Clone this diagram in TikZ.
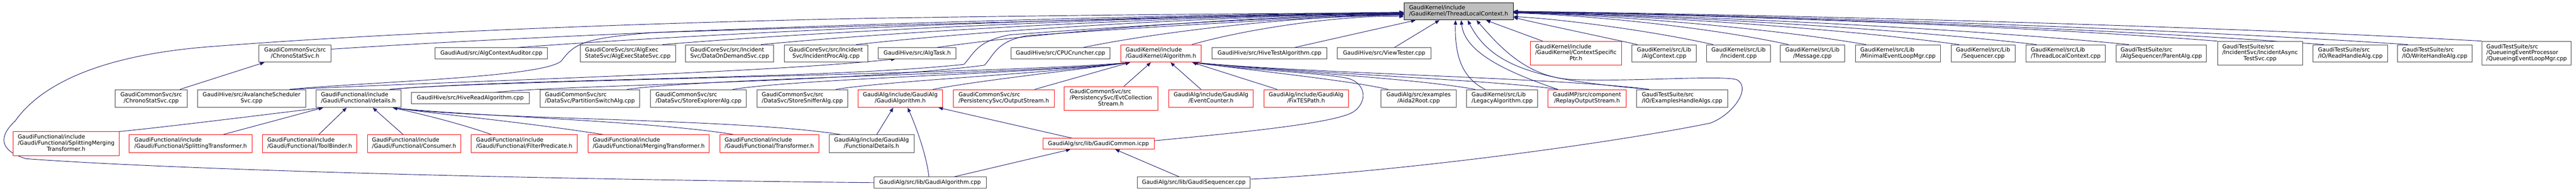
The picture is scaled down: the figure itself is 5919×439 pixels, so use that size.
\documentclass[tikz,border=0pt]{standalone}
\usepackage{fontspec}
\setmainfont{DejaVu Sans}
\usetikzlibrary{arrows.meta}
\pgfdeclarelayer{edgelayer}
\pgfsetlayers{edgelayer,main}
\definecolor{edgeblue}{HTML}{191970}
\definecolor{bordergrey}{HTML}{404040}
\definecolor{rootfill}{HTML}{BFBFBF}
\newcommand{\labA}[2]{\begin{tabular}{@{}l@{}}#1\\\multicolumn{1}{@{}c@{}}{#2}\end{tabular}}
\newcommand{\labB}[3]{\begin{tabular}{@{}l@{}}#1\\#2\\\multicolumn{1}{@{}c@{}}{#3}\end{tabular}}
\newcommand{\mkbox}[7]{%
  \pgfmathsetmacro{\mkW}{#5-#3}\pgfmathsetmacro{\mkH}{#6-#4}%
  \pgfmathsetmacro{\mkX}{(#3+#5)/2}\pgfmathsetmacro{\mkY}{(#4+#6)/2}%
  \node[#1, minimum width=\mkW pt, minimum height=\mkH pt] (#2) at (\mkX,\mkY) {#7};}
\tikzset{
  box/.style={rectangle, draw=bordergrey, line width=1.1pt, fill=white, inner sep=0pt,
    font=\fontsize{12.85}{14}\selectfont},
  redbox/.style={box, draw=red},
  rootbox/.style={box, draw=black, fill=rootfill},
  dep/.style={draw=edgeblue, line width=1.1pt, -{Triangle[length=10pt,width=8pt]}},
}
\begin{document}
\begin{tikzpicture}[x=1pt,y=-1pt]
\useasboundingbox (0,0) rectangle (5919,439);
% root
\mkbox{rootbox}{R}{3226}{6}{3477}{46}{\labA{GaudiKernel/include}{/GaudiKernel/ThreadLocalContext.h}}
% row 1
\mkbox{box}{n1}{595}{103}{761}{143}{\labA{GaudiCommonSvc/src}{/ChronoStatSvc.h}}
\mkbox{box}{n2}{1000}{110}{1258}{135}{GaudiAud/src/AlgContextAuditor.cpp}
\mkbox{box}{n3}{1333}{103}{1552}{143}{\labA{GaudiCoreSvc/src/AlgExec}{StateSvc/AlgExecStateSvc.cpp}}
\mkbox{box}{n4}{1575}{103}{1778}{143}{\labA{GaudiCoreSvc/src/Incident}{Svc/DataOnDemandSvc.cpp}}
\mkbox{box}{n5}{1802}{103}{1994}{143}{\labA{GaudiCoreSvc/src/Incident}{Svc/IncidentProcAlg.cpp}}
\mkbox{box}{n6}{2018}{110}{2197}{135}{GaudiHive/src/AlgTask.h}
\mkbox{box}{n7}{2323}{110}{2551}{135}{GaudiHive/src/CPUCruncher.cpp}
\mkbox{redbox}{n8}{2575}{103}{2760}{143}{\labA{GaudiKernel/include}{/GaudiKernel/Algorithm.h}}
\mkbox{box}{n9}{2785}{110}{3049}{135}{GaudiHive/src/HiveTestAlgorithm.cpp}
\mkbox{box}{n10}{3073}{110}{3288}{135}{GaudiHive/src/ViewTester.cpp}
\mkbox{redbox}{n11}{3516}{95}{3726}{150}{\labB{GaudiKernel/include}{/GaudiKernel/ContextSpecific}{Ptr.h}}
\mkbox{box}{n12}{3750}{103}{3897}{143}{\labA{GaudiKernel/src/Lib}{/AlgContext.cpp}}
\mkbox{box}{n13}{3921}{103}{4068}{143}{\labA{GaudiKernel/src/Lib}{/Incident.cpp}}
\mkbox{box}{n14}{4091}{103}{4238}{143}{\labA{GaudiKernel/src/Lib}{/Message.cpp}}
\mkbox{box}{n15}{4263}{103}{4459}{143}{\labA{GaudiKernel/src/Lib}{/MinimalEventLoopMgr.cpp}}
\mkbox{box}{n16}{4483}{103}{4630}{143}{\labA{GaudiKernel/src/Lib}{/Sequencer.cpp}}
\mkbox{box}{n17}{4655}{103}{4838}{143}{\labA{GaudiKernel/src/Lib}{/ThreadLocalContext.cpp}}
\mkbox{box}{n18}{4862}{103}{5070}{143}{\labA{GaudiTestSuite/src}{/AlgSequencer/ParentAlg.cpp}}
\mkbox{box}{n19}{5095}{95}{5291}{150}{\labB{GaudiTestSuite/src}{/IncidentSvc/IncidentAsync}{TestSvc.cpp}}
\mkbox{box}{n20}{5315}{103}{5486}{143}{\labA{GaudiTestSuite/src}{/IO/ReadHandleAlg.cpp}}
\mkbox{box}{n21}{5509}{103}{5680}{143}{\labA{GaudiTestSuite/src}{/IO/WriteHandleAlg.cpp}}
\mkbox{box}{n22}{5703}{95}{5908}{150}{\labB{GaudiTestSuite/src}{/QueueingEventProcessor}{/QueueingEventLoopMgr.cpp}}
% row 2
\mkbox{box}{m1}{265}{206}{430}{247}{\labA{GaudiCommonSvc/src}{/ChronoStatSvc.cpp}}
\mkbox{box}{m2}{454}{206}{702}{247}{\labA{GaudiHive/src/AvalancheScheduler}{Svc.cpp}}
\mkbox{box}{m3}{726}{206}{921}{247}{\labA{GaudiFunctional/include}{/Gaudi/Functional/details.h}}
\mkbox{box}{m4}{945}{213}{1216}{239}{GaudiHive/src/HiveReadAlgorithm.cpp}
\mkbox{box}{m5}{1241}{206}{1470}{247}{\labA{GaudiCommonSvc/src}{/DataSvc/PartitionSwitchAlg.cpp}}
\mkbox{box}{m6}{1495}{206}{1715}{247}{\labA{GaudiCommonSvc/src}{/DataSvc/StoreExplorerAlg.cpp}}
\mkbox{box}{m7}{1739}{206}{1948}{247}{\labA{GaudiCommonSvc/src}{/DataSvc/StoreSnifferAlg.cpp}}
\mkbox{redbox}{m8}{1971}{206}{2166}{247}{\labA{GaudiAlg/include/GaudiAlg}{/GaudiAlgorithm.h}}
\mkbox{redbox}{m9}{2191}{206}{2422}{247}{\labA{GaudiCommonSvc/src}{/PersistencySvc/OutputStream.h}}
\mkbox{redbox}{m10}{2445}{199}{2660}{254}{\labB{GaudiCommonSvc/src}{/PersistencySvc/EvtCollection}{Stream.h}}
\mkbox{redbox}{m11}{2685}{206}{2880}{247}{\labA{GaudiAlg/include/GaudiAlg}{/EventCounter.h}}
\mkbox{redbox}{m12}{2904}{206}{3098}{247}{\labA{GaudiAlg/include/GaudiAlg}{/FixTESPath.h}}
\mkbox{box}{m13}{3173}{206}{3346}{247}{\labA{GaudiAlg/src/examples}{/Aida2Root.cpp}}
\mkbox{box}{m14}{3370}{206}{3533}{247}{\labA{GaudiKernel/src/Lib}{/LegacyAlgorithm.cpp}}
\mkbox{redbox}{m15}{3557}{206}{3736}{247}{\labA{GaudiMP/src/component}{/ReplayOutputStream.h}}
\mkbox{box}{m16}{3760}{206}{3970}{247}{\labA{GaudiTestSuite/src}{/IO/ExamplesHandleAlgs.cpp}}
% row 3
\mkbox{redbox}{k1}{30}{303}{274}{358}{\labB{GaudiFunctional/include}{/Gaudi/Functional/SplittingMerging}{Transformer.h}}
\mkbox{redbox}{k2}{297}{310}{579}{351}{\labA{GaudiFunctional/include}{/Gaudi/Functional/SplittingTransformer.h}}
\mkbox{redbox}{k3}{603}{310}{820}{351}{\labA{GaudiFunctional/include}{/Gaudi/Functional/ToolBinder.h}}
\mkbox{redbox}{k4}{844}{310}{1059}{351}{\labA{GaudiFunctional/include}{/Gaudi/Functional/Consumer.h}}
\mkbox{redbox}{k5}{1083}{310}{1326}{351}{\labA{GaudiFunctional/include}{/Gaudi/Functional/FilterPredicate.h}}
\mkbox{redbox}{k6}{1351}{310}{1630}{351}{\labA{GaudiFunctional/include}{/Gaudi/Functional/MergingTransformer.h}}
\mkbox{redbox}{k7}{1654}{310}{1881}{351}{\labA{GaudiFunctional/include}{/Gaudi/Functional/Transformer.h}}
\mkbox{box}{k8}{1905}{310}{2100}{351}{\labA{GaudiAlg/include/GaudiAlg}{/FunctionalDetails.h}}
\mkbox{redbox}{k9}{2396}{318}{2652}{343}{GaudiAlg/src/lib/GaudiCommon.icpp}
% row 4
\mkbox{box}{p1}{2008}{407}{2266}{433}{GaudiAlg/src/lib/GaudiAlgorithm.cpp}
\mkbox{box}{p2}{2613}{407}{2873}{433}{GaudiAlg/src/lib/GaudiSequencer.cpp}

\begin{pgfonlayer}{edgelayer}
% ---- edges to the root, from the left
\draw[dep] (p1.west) .. controls (1200,412) and (400,390) .. (60,365)
  .. controls (10,350) and (-12,322) .. (35,278)
  .. controls (90,200) and (220,125) .. (500,106)
  .. controls (900,75) and (1500,52) .. (2000,42)
  .. controls (2600,33) and (3000,30) .. ([yshift=-4pt]R.west);
\draw[dep] ([yshift=10pt]n1.east) .. controls (1501,65) and (2610,35) .. ([yshift=-2pt]R.west);
\draw[dep] ([xshift=-17pt]m1.north east) -- ([xshift=13pt]n1.south west);
\draw[dep] ([xshift=-73pt]n2.north east) .. controls (1797,64) and (2716,34) .. ([yshift=-3pt]R.west);
\draw[dep] ([xshift=-37pt]m2.north east) .. controls (850,188) and (1250,178) .. (1290,140)
  .. controls (1320,100) and (1340,88) .. (1500,75)
  .. controls (2200,52) and (2900,35) .. ([yshift=-5pt]R.west);
\draw[dep] ([xshift=-37pt]m2.north east) .. controls (1100,185) and (1750,168) .. ([xshift=40pt]n6.south west);
\draw[dep] ([xshift=-30pt]n3.north east) .. controls (2033,61) and (2800,34) .. ([yshift=-4pt]R.west);
\draw[dep] ([xshift=-30pt]n4.north east) .. controls (2191,61) and (2857,34) .. ([yshift=-5pt]R.west);
\draw[dep] ([xshift=-27pt]n5.north east) .. controls (2345,61) and (2911,34) .. ([yshift=-6pt]R.west);
\draw[dep] ([xshift=-47pt]n6.north east) .. controls (2473,64) and (2957,34) .. ([yshift=-7pt]R.west);
\draw[dep] ([xshift=-26pt]m3.north east) .. controls (1200,180) and (1900,182) .. (2215,148)
  .. controls (2240,120) and (2245,95) .. (2320,80)
  .. controls (2700,52) and (3000,38) .. ([yshift=-7pt]R.west);
\draw[dep] ([xshift=-80pt]m4.north east) .. controls (1300,195) and (1950,190) .. (2262,150)
  .. controls (2285,125) and (2290,95) .. (2360,82)
  .. controls (2700,58) and (3000,40) .. ([yshift=-8pt]R.west);
\draw[dep] ([xshift=-64pt]n7.north east) .. controls (2709,64) and (3041,34) .. ([yshift=-9pt]R.west);
\draw[dep] ([xshift=-22pt]n8.north east) .. controls (2884,61) and (3104,34) .. ([yshift=-12pt]R.west);
% ---- edges to the root, from below
\draw[dep] ([xshift=-76pt]n9.north east) -- ([xshift=27pt]R.south west);
\draw[dep] ([xshift=-85pt]n10.north east) -- ([xshift=82pt]R.south west);
\draw[dep] ([xshift=43pt]m14.north west) .. controls (3350,175) and (3343,110) .. ([xshift=119pt]R.south west);
\draw[dep] ([xshift=23pt]m15.north west) .. controls (3460,165) and (3365,120) .. ([xshift=132pt]R.south west);
\draw[dep] ([xshift=30pt]m16.north west) .. controls (3550,185) and (3430,160) .. ([xshift=147pt]R.south west);
\draw[dep] ([yshift=8pt]p2.east) .. controls (3200,397) and (3700,330) .. (3930,283)
  .. controls (3985,262) and (4025,200) .. (3990,183)
  .. controls (3950,172) and (3720,190) .. (3600,182)
  .. controls (3500,172) and (3440,100) .. ([xshift=167pt]R.south west);
\draw[dep] ([xshift=29pt]n11.north west) -- ([xshift=189pt]R.south west);
% ---- edges to the root, from the right
\draw[dep] ([xshift=13pt]n12.north west) .. controls (3650,78) and (3540,55) .. ([yshift=-14pt]R.east);
\draw[dep] ([xshift=16pt]n13.north west) .. controls (3800,72) and (3600,45) .. ([yshift=-12pt]R.east);
\draw[dep] ([xshift=19pt]n14.north west) .. controls (3920,61) and (3635,34) .. ([yshift=-4pt]R.east);
\draw[dep] ([xshift=25pt]n15.north west) .. controls (4045,61) and (3680,34) .. ([yshift=-3pt]R.east);
\draw[dep] ([xshift=19pt]n16.north west) .. controls (4195,61) and (3733,34) .. ([yshift=-3pt]R.east);
\draw[dep] ([xshift=25pt]n17.north west) .. controls (4319,61) and (3778,34) .. ([yshift=-2pt]R.east);
\draw[dep] ([xshift=30pt]n18.north west) .. controls (4468,61) and (3831,34) .. ([yshift=-2pt]R.east);
\draw[dep] (n19.north west) .. controls (4610,57) and (3882,33) .. ([yshift=-1pt]R.east);
\draw[dep] ([xshift=25pt]n20.north west) .. controls (4781,61) and (3943,34) .. ([yshift=-1pt]R.east);
\draw[dep] ([xshift=24pt]n21.north west) .. controls (4916,61) and (3991,34) .. (R.east);
\draw[dep] (n22.north west) .. controls (5035,57) and (4033,33) .. (R.east);
% ---- edges to Algorithm.h
\draw[dep] ([xshift=-45pt]m9.north east) -- ([xshift=22pt]n8.south west);
\draw[dep] ([xshift=-23pt]m8.north east) .. controls (2250,185) and (2480,160) .. ([xshift=22pt]n8.south west);
\draw[dep] ([xshift=-28pt]m7.north east) .. controls (2050,185) and (2400,170) .. ([xshift=22pt]n8.south west);
\draw[dep] ([xshift=-32pt]m6.north east) .. controls (1850,180) and (2400,168) .. ([xshift=22pt]n8.south west);
\draw[dep] ([xshift=-30pt]m5.north east) .. controls (1650,178) and (2400,168) .. ([xshift=22pt]n8.south west);
\draw[dep] ([xshift=-26pt]m3.north east) .. controls (1100,185) and (2300,170) .. ([xshift=22pt]n8.south west);
\draw[dep] ([xshift=138pt]m10.north west) -- ([xshift=70pt]n8.south west);
\draw[dep] ([xshift=75pt]m11.north west) -- ([xshift=115pt]n8.south west);
\draw[dep] ([xshift=31pt]m12.north west) -- ([xshift=165pt]n8.south west);
\draw[dep] ([xshift=17pt]m13.north west) .. controls (3100,185) and (2900,165) .. ([xshift=168pt]n8.south west);
\draw[dep] ([xshift=20pt]m14.north west) .. controls (3250,180) and (2950,165) .. ([xshift=168pt]n8.south west);
\draw[dep] ([xshift=23pt]m15.north west) .. controls (3450,185) and (3000,168) .. ([xshift=168pt]n8.south west);
\draw[dep] ([xshift=30pt]m16.north west) .. controls (3600,180) and (3000,168) .. ([xshift=168pt]n8.south west);
\draw[dep] ([yshift=7pt]k9.east) .. controls (2850,305) and (3070,283) .. (3110,257)
  .. controls (3140,237) and (3142,195) .. (3100,181)
  .. controls (3050,168) and (2850,160) .. ([xshift=168pt]n8.south west);
% ---- edges to GaudiAlgorithm.h
\draw[dep] ([xshift=110pt]k8.north west) -- ([xshift=82pt]m8.south west);
\draw[dep] ([xshift=127pt]p1.north west) .. controls (2128,350) and (2100,280) .. ([xshift=115pt]m8.south west);
\draw[dep] ([xshift=67pt]k9.north west) -- ([xshift=186pt]m8.south west);
% ---- edges to GaudiCommon.icpp
\draw[dep] ([xshift=185pt]p1.north west) -- ([xshift=64pt]k9.south west);
\draw[dep] ([xshift=97pt]p2.north west) -- ([xshift=167pt]k9.south west);
% ---- edges to details.h
\draw[dep] (k1.north east) .. controls (400,290) and (620,262) .. ([xshift=17pt]m3.south west);
\draw[dep] ([xshift=216pt]k2.north west) -- ([xshift=17pt]m3.south west);
\draw[dep] ([xshift=130pt]k3.north west) -- ([xshift=71pt]m3.south west);
\draw[dep] ([xshift=83pt]k4.north west) -- ([xshift=131pt]m3.south west);
\draw[dep] ([xshift=47pt]k5.north west) .. controls (1060,285) and (980,265) .. ([xshift=177pt]m3.south west);
\draw[dep] ([xshift=36pt]k6.north west) .. controls (1200,280) and (1000,262) .. ([xshift=177pt]m3.south west);
\draw[dep] ([xshift=33pt]k7.north west) .. controls (1500,278) and (1050,265) .. ([xshift=177pt]m3.south west);
\draw[dep] ([xshift=28pt]k8.north west) .. controls (1700,272) and (1100,275) .. ([xshift=177pt]m3.south west);
\end{pgfonlayer}
\end{tikzpicture}
\end{document}
